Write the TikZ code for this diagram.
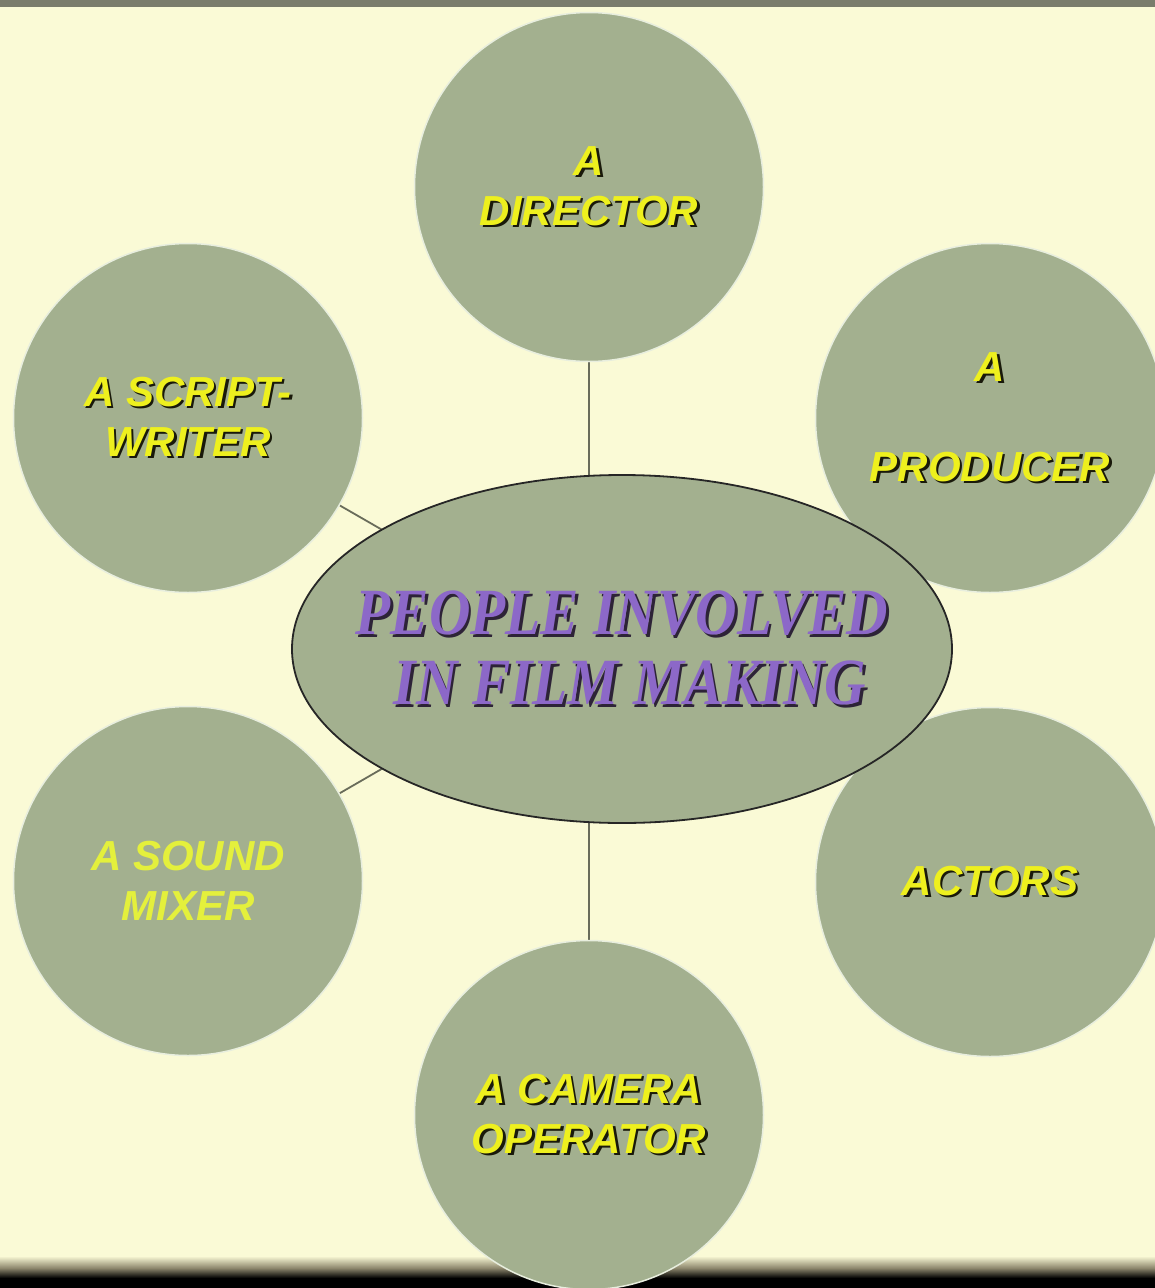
\documentclass[tikz,border=0pt]{standalone}
\usepackage{fontspec}
\setmainfont{Liberation Serif}
\setsansfont{Liberation Sans}
\usetikzlibrary{shapes.geometric}
\pgfdeclarelayer{back}
\pgfdeclarelayer{links}
\pgfsetlayers{back,links,main}
\definecolor{bgc}{RGB}{250,250,214}
\definecolor{circc}{RGB}{163,176,143}
\definecolor{rimc}{RGB}{232,238,222}
\definecolor{linec}{RGB}{105,108,90}
\definecolor{yelc}{RGB}{238,240,30}
\definecolor{mixc}{RGB}{228,240,60}
\definecolor{shadc}{RGB}{25,25,10}
\definecolor{purc}{RGB}{140,104,200}
\definecolor{pshadc}{RGB}{45,35,55}
\definecolor{topc}{RGB}{122,124,108}
\definecolor{midc}{RGB}{140,134,108}
\newcommand\shd[1]{\leavevmode\rlap{\kern2.4pt\raisebox{-2.4pt}{\color{shadc}#1}}#1}
\newcommand\pshd[1]{\leavevmode\rlap{\kern3pt\raisebox{-3pt}{\color{pshadc}#1}}#1}
\tikzset{
  role/.style={circle, fill=circc, draw=rimc, line width=1.5pt, minimum size=349pt, inner sep=0pt,
    align=center, text=yelc, font=\sffamily\bfseries\itshape\fontsize{42}{50}\selectfont},
  hub/.style={ellipse, fill=circc, draw=black!85, line width=1.8pt, minimum width=660pt,
    minimum height=348pt, inner sep=0pt, text=purc,
    font=\rmfamily\bfseries\itshape\fontsize{66}{70}\selectfont},
  link/.style={draw=linec, line width=1.8pt}
}
\begin{document}
\begin{tikzpicture}[x=1pt,y=-1pt]
\useasboundingbox (0,0) rectangle (1155,1288);
\begin{pgfonlayer}{back}
\fill[bgc] (0,0) rectangle (1155,1288);
\fill[topc] (0,0) rectangle (1155,7);
\shade[top color=bgc, bottom color=midc] (0,1256) rectangle (1155,1268);
\shade[top color=midc, bottom color=black] (0,1268) rectangle (1155,1278);
\fill[black] (0,1278) rectangle (1155,1288);
\end{pgfonlayer}
\coordinate (c) at (589,649);
% circles
\node[role] (dir) at (589,187) {\shd{A}\\\shd{DIRECTOR}};
\node[role] (scr) at (188,418) {\shd{A SCRIPT-}\\\shd{WRITER}};
\node[role] (pro) at (990,418) {\shd{A}\\[50pt]\shd{PRODUCER}};
\node[role, text=mixc] (mix) at (188,881) {A SOUND\\MIXER};
\node[role] (act) at (990,882) {\shd{ACTORS}};
\node[role] (cam) at (589,1115) {\shd{A CAMERA}\\\shd{OPERATOR}};
\node[hub] (mid) at (622,649) {\makebox[0pt]{\begin{tabular}{@{}c@{}}\rule{0pt}{61pt}\scalebox{0.87}[1]{\pshd{PEOPLE INVOLVED}}\\\hspace{16pt}\scalebox{0.87}[1]{\pshd{IN FILM MAKING}}\end{tabular}}};
% connectors (behind circles)
\begin{pgfonlayer}{links}
\path[link] (dir.south) -- (cam.north);
\path[link] (scr) -- (c);
\path[link] (mix) -- (c);
\end{pgfonlayer}
\end{tikzpicture}
\end{document}
